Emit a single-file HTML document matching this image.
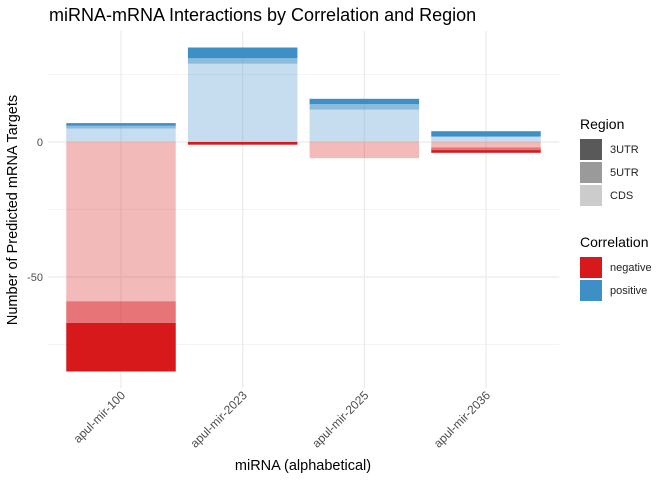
<!DOCTYPE html>
<html><head><meta charset="utf-8"><style>
body{margin:0;background:#fff}
svg{font-family:"Liberation Sans",sans-serif;display:block}
</style></head><body>
<svg id="chart" width="672" height="480">
<text x="49" y="21" font-size="18" fill="#000">miRNA-mRNA Interactions by Correlation and Region</text>
<g id="grid"></g><g id="bars"></g><g id="axes"></g>
<text transform="translate(17,210) rotate(-90)" text-anchor="middle" font-size="14.5">Number of Predicted mRNA Targets</text>
<text x="303" y="470" text-anchor="middle" font-size="14.5">miRNA (alphabetical)</text>
<g>
<text x="580" y="129" font-size="14">Region</text>
<rect x="580" y="139" width="22" height="21" fill="#595959"/><text x="610" y="153" font-size="11" fill="#222">3UTR</text>
<rect x="580" y="162" width="22" height="21" fill="#9A9A9A"/><text x="610" y="176" font-size="11" fill="#222">5UTR</text>
<rect x="580" y="185" width="22" height="21" fill="#CCCCCC"/><text x="610" y="199" font-size="11" fill="#222">CDS</text>
</g>
<g>
<text x="580" y="247" font-size="14">Correlation</text>
<rect x="580" y="257" width="22" height="21" fill="#D7191C"/><text x="610" y="271" font-size="11" fill="#222">negative</text>
<rect x="580" y="280" width="22" height="21" fill="#3F8FC7"/><text x="610" y="294" font-size="11" fill="#222">positive</text>
</g>
</svg>
<script>
const categories=["apul-mir-100","apul-mir-2023","apul-mir-2025","apul-mir-2036"];
const posCDS=[5,29,12,2];
const pos5UTR=[1,2,2,0];
const pos3UTR=[1,4,2,2];
const negCDS=[59,0,6,2];
const neg5UTR=[8,0,0,1];
const neg3UTR=[18,1,0,1];
const yTicks=[-50,0];
const yGrid=[-75,-25,25];

const NS="http://www.w3.org/2000/svg";
const L=48,R=559,T=31,B=388;
const y=v=>142-v*2.7;
const step=(R-L)/(categories.length+0.2);
const x=i=>L+step*(0.6+i);
const bw=step*0.9;
function mk(tag,attrs,parent){const e=document.createElementNS(NS,tag);for(const k in attrs)e.setAttribute(k,attrs[k]);parent.appendChild(e);return e;}
const grid=document.getElementById('grid'),bars=document.getElementById('bars'),axes=document.getElementById('axes');
yGrid.forEach(v=>{const l=mk('line',{x1:L,x2:R,y1:y(v),y2:y(v),stroke:'#f0f0f0','stroke-width':0.8},grid);

});
yTicks.forEach(v=>{const l=mk('line',{x1:L,x2:R,y1:y(v),y2:y(v),stroke:'#ebebeb','stroke-width':1.2},grid);


const t=mk('text',{x:43,y:y(v)+4,'text-anchor':'end','font-size':11,fill:'#4d4d4d'},axes);t.textContent=v;

});
categories.forEach((c,i)=>{const l=mk('line',{x1:x(i),x2:x(i),y1:T,y2:B,stroke:'#ebebeb','stroke-width':1.2},grid);


const t=mk('text',{transform:`translate(${x(i)+5},396) rotate(-45)`,'text-anchor':'end','font-size':12,fill:'#4d4d4d'},axes);t.textContent=c;


let p=0;[[posCDS,0.3,'cds'],[pos5UTR,0.6,'5utr'],[pos3UTR,1,'3utr']].forEach(([arr,a,n])=>{const v=arr[i];if(v>0){const r=mk('rect',{x:x(i)-bw/2,width:bw,y:y(p+v),height:y(p)-y(p+v),fill:'#3F8FC7','fill-opacity':a},bars);

}p+=v;});
let q=0;[[negCDS,0.3,'cds'],[neg5UTR,0.6,'5utr'],[neg3UTR,1,'3utr']].forEach(([arr,a,n])=>{const v=arr[i];if(v>0){const r=mk('rect',{x:x(i)-bw/2,width:bw,y:y(q),height:y(q-v)-y(q),fill:'#D7191C','fill-opacity':a},bars);

}q-=v;});
});
</script>
</body></html>
